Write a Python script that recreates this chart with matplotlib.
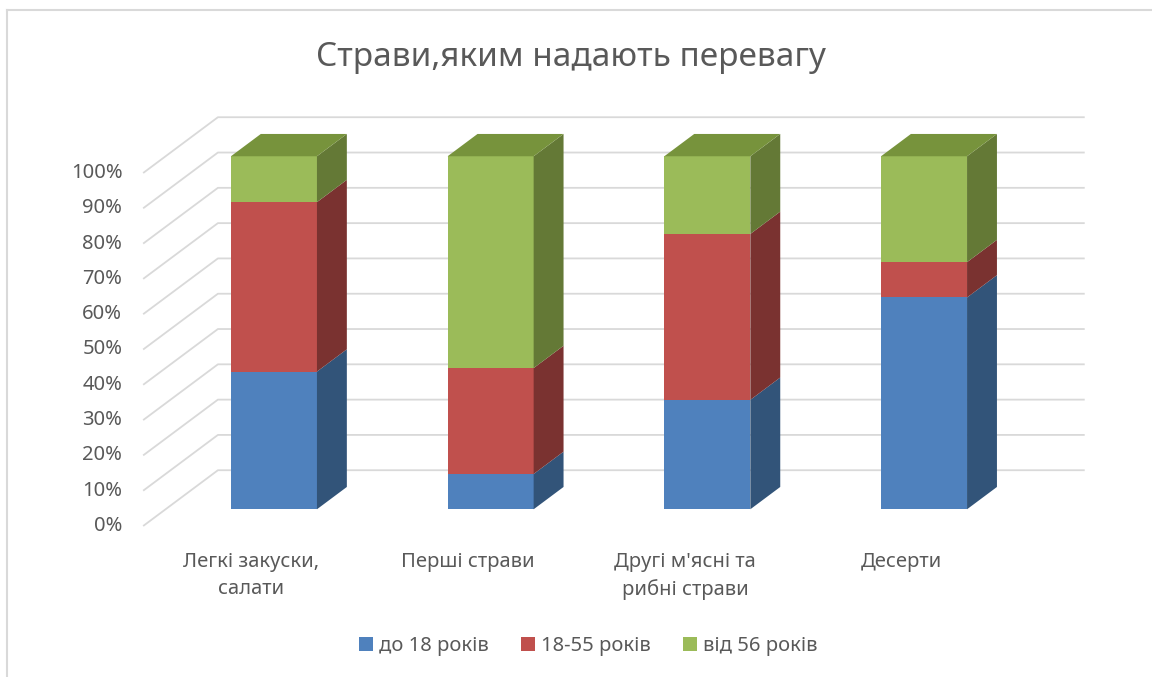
import matplotlib.pyplot as plt
from matplotlib.patches import Polygon, Patch
from matplotlib.lines import Line2D

plt.rcParams['font.family'] = ['Noto Sans', 'DejaVu Sans']

# ---- data ----
categories = ["Легкі закуски,\nсалати", "Перші страви",
              "Другі м'ясні та\nрибні страви", "Десерти"]
series_names = ["до 18 років", "18-55 років", "від 56 років"]
under_18 = [39, 10, 31, 60]
age_18_55 = [48, 30, 47, 10]
over_56 = [13, 60, 22, 30]
yticks = list(range(0, 101, 10))
title = "Страви,яким надають перевагу"

# ---- style ----
FRONT = ["#4F81BD", "#C0504D", "#9BBB59"]
SIDE = ["#325479", "#7A3230", "#647936"]
TOP = ["#3F6797", "#963F3D", "#77933C"]
GRID = "#D9D9D9"
TXT = "#595959"
FS = 14.5

# oblique projection: depth 0 = floor front, 1 = back wall
DX, DY = 0.345, 15.8
D0, D1 = 0.30, 0.70   # bar depth range
W = 0.397             # bar width (category units)


def proj(x, y, d):
    return (x + d * DX, y + d * DY)


W_PX, H_PX = 1152, 677
fig = plt.figure(figsize=(W_PX / 100, H_PX / 100), dpi=100)
ax = fig.add_axes([0, 0, 1, 1])
# map data units to the pixel layout of the reference
x0_px, x_unit = 251.5, 216.7
y0_px, y_unit = 526.0, 3.53
ax.set_xlim(-x0_px / x_unit, (W_PX - x0_px) / x_unit)
ax.set_ylim((y0_px - H_PX) / y_unit, y0_px / y_unit)
ax.axis("off")

# gridlines: side wall diagonal + back wall horizontal
x_left, x_right = -0.5, len(categories) - 0.5
for t in yticks:
    p0 = proj(x_left, t, 0)
    p1 = proj(x_left, t, 1)
    p2 = proj(x_right, t, 1)
    ax.plot([p0[0], p1[0], p2[0]], [p0[1], p1[1], p2[1]],
            color=GRID, lw=1.3, zorder=1, solid_capstyle="butt")
    ax.annotate(f"{t}%", xy=p0, xytext=(-15, 0), textcoords="offset points",
                ha="right", va="center", fontsize=FS, color=TXT)

# 3D stacked columns
series = [under_18, age_18_55, over_56]
for i in range(len(categories)):
    bottom = 0
    xl, xr = i - W / 2, i + W / 2
    for k, vals in enumerate(series):
        top = bottom + vals[i]
        front = [proj(xl, bottom, D0), proj(xr, bottom, D0),
                 proj(xr, top, D0), proj(xl, top, D0)]
        side = [proj(xr, bottom, D0), proj(xr, bottom, D1),
                proj(xr, top, D1), proj(xr, top, D0)]
        ax.add_patch(Polygon(front, closed=True, fc=FRONT[k], ec="none", zorder=3))
        ax.add_patch(Polygon(side, closed=True, fc=SIDE[k], ec="none", zorder=3))
        if k == len(series) - 1:
            lid = [proj(xl, top, D0), proj(xr, top, D0),
                   proj(xr, top, D1), proj(xl, top, D1)]
            ax.add_patch(Polygon(lid, closed=True, fc=TOP[k], ec="none", zorder=3))
        bottom = top

# category labels
for i, lab in enumerate(categories):
    ax.text(i, -7.4, lab, ha="center", va="top", fontsize=FS, color=TXT,
            linespacing=1.45)

# title
fig.text(571 / W_PX, 1 - 58 / H_PX, title, ha="center", va="center",
         fontsize=24, color=TXT)

# legend
handles = [Patch(facecolor=c, edgecolor="none") for c in FRONT]
fig.legend(handles, series_names, loc="center", ncol=3, frameon=False,
           bbox_to_anchor=(588 / W_PX, 1 - 646 / H_PX), fontsize=FS,
           handlelength=0.7, handleheight=0.7, handletextpad=0.3,
           columnspacing=1.6, labelcolor=TXT)

# chart border (only top and left visible)
bx, by = 7 / W_PX, 1 - 10 / H_PX
fig.add_artist(Line2D([bx, 1], [by, by], color=GRID, lw=1.5, transform=fig.transFigure))
fig.add_artist(Line2D([bx, bx], [0, by], color=GRID, lw=1.5, transform=fig.transFigure))

fig.savefig("out.png", dpi=100)
